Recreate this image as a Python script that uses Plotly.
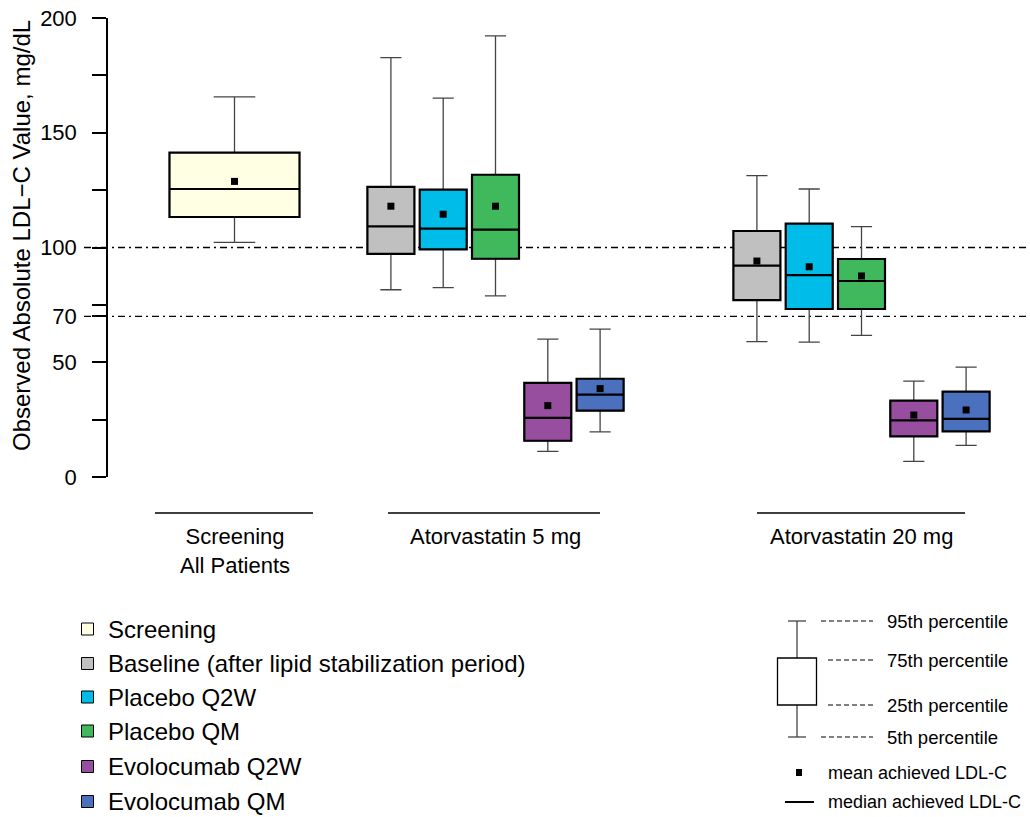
import plotly.graph_objects as go

# ---------------- data ----------------
series = ["Screening", "Baseline (after lipid stabilization period)", "Placebo Q2W",
          "Placebo QM", "Evolocumab Q2W", "Evolocumab QM"]
colors = ["#FFFFE4", "#C0C0C0", "#00BCE8", "#40B85C", "#984E9E", "#4B70BE"]
groups = ["Screening<br>All Patients", "Atorvastatin 5 mg", "Atorvastatin 20 mg"]

box_group = [0, 1, 1, 1, 1, 1, 2, 2, 2, 2, 2]
box_series = [0, 1, 2, 3, 4, 5, 1, 2, 3, 4, 5]
p5 = [102.2, 81.6, 82.5, 78.9, 11.2, 19.7, 59.0, 58.8, 61.7, 6.8, 13.8]
q1 = [113.3, 97.2, 99.2, 95.1, 15.8, 28.9, 77.1, 73.2, 73.2, 17.7, 19.9]
med = [125.5, 109.2, 108.2, 107.8, 25.8, 35.9, 92.1, 88.0, 85.4, 24.7, 25.3]
q3 = [141.3, 126.4, 125.2, 131.7, 41.0, 42.8, 107.2, 110.4, 95.0, 33.3, 37.2]
p95 = [165.6, 182.7, 165.1, 192.2, 60.1, 64.4, 131.3, 125.5, 109.1, 41.8, 47.9]
mean = [128.8, 118.0, 114.5, 118.0, 31.1, 38.5, 94.1, 91.6, 87.6, 27.0, 29.2]

ref_lines = [100, 70]
y_major = [0, 50, 70, 100, 150, 200]
y_minor = [25, 75, 125, 175]
y_title = "Observed Absolute LDL\u2212C Value, mg/dL"

key_labels = ["95th percentile", "75th percentile", "25th percentile", "5th percentile"]
mean_label = "mean achieved LDL-C"
median_label = "median achieved LDL-C"

# ---------------- layout constants (pixels) ----------------
W, H = 1030, 817
L, R, T, B = 108, 3, 18, 340
PW, PH = W - L - R, H - T - B
YMAX = 200
group_center = [234.5, 495.5, 861.5]
slot = 52.3
FONT = "Arial, Liberation Sans, sans-serif"


def px(x):
    return (x - L) / PW


def py(y):
    return (H - B - y) / PH


def xpos(i):
    g = box_group[i]
    if g == 0:
        return group_center[0]
    return group_center[g] + (box_series[i] - 3) * slot


fig = go.Figure()

# whiskers (thin grey) + boxes (black outline)
for i in range(len(p5)):
    s = box_series[i]
    wbox = 130 if box_group[i] == 0 else 47
    cap = 0.32 if box_group[i] == 0 else 0.45
    x = xpos(i)
    fig.add_trace(go.Box(
        x=[x], q1=[q1[i]], median=[med[i]], q3=[q3[i]],
        lowerfence=[p5[i]], upperfence=[p95[i]],
        width=wbox, whiskerwidth=cap, boxpoints=False,
        fillcolor=colors[s], line=dict(color="#444444", width=1.3),
        showlegend=False, hoverinfo="skip"))
    fig.add_trace(go.Box(
        x=[x], q1=[q1[i]], median=[med[i]], q3=[q3[i]],
        lowerfence=[q1[i]], upperfence=[q3[i]],
        width=wbox, whiskerwidth=0, boxpoints=False,
        fillcolor=colors[s], line=dict(color="black", width=2.2),
        showlegend=False, hoverinfo="skip"))

fig.add_trace(go.Scatter(
    x=[xpos(i) for i in range(len(mean))], y=mean, mode="markers",
    marker=dict(symbol="square", size=7, color="black"),
    showlegend=False, hoverinfo="skip"))

shapes = []
annotations = []

# reference dash-dot lines
for v in ref_lines:
    shapes.append(dict(type="line", xref="paper", yref="paper",
                       x0=px(84), x1=px(1027), y0=v / YMAX, y1=v / YMAX,
                       line=dict(color="black", width=1.4, dash="7px,4px,2px,4px"),
                       layer="below"))

# group labels with lines
group_line = [(155, 313), (388, 600), (757, 965)]
for g, name in enumerate(groups):
    a, b = group_line[g]
    shapes.append(dict(type="line", xref="paper", yref="paper",
                       x0=px(a), x1=px(b), y0=py(513), y1=py(513),
                       line=dict(color="black", width=1.5)))
    annotations.append(dict(xref="paper", yref="paper", x=px(group_center[g]), y=py(522),
                            text=name, showarrow=False, xanchor="center", yanchor="top",
                            font=dict(family=FONT, size=22, color="black")))

# y title
annotations.append(dict(xref="paper", yref="paper", x=px(21), y=py(236), text=y_title,
                        textangle=-90, showarrow=False, xanchor="center", yanchor="middle",
                        font=dict(family=FONT, size=24, color="black")))

# left legend
leg_y = [629, 663.5, 697, 731, 766.5, 801.5]
for k, name in enumerate(series):
    yy = leg_y[k]
    shapes.append(dict(type="rect", xref="paper", yref="paper",
                       x0=px(81.5), x1=px(93.5), y0=py(yy - 6), y1=py(yy + 6),
                       fillcolor=colors[k], line=dict(color="black", width=1)))
    annotations.append(dict(xref="paper", yref="paper", x=px(106), y=py(yy), text=name,
                            showarrow=False, xanchor="left", yanchor="middle",
                            font=dict(family=FONT, size=24, color="black")))

# right key
wx = 797
grey = "#444444"
shapes += [
    dict(type="line", xref="paper", yref="paper", x0=px(wx), x1=px(wx), y0=py(621), y1=py(658),
         line=dict(color=grey, width=1.3)),
    dict(type="line", xref="paper", yref="paper", x0=px(wx), x1=px(wx), y0=py(705), y1=py(737),
         line=dict(color=grey, width=1.3)),
    dict(type="line", xref="paper", yref="paper", x0=px(788), x1=px(806), y0=py(621), y1=py(621),
         line=dict(color=grey, width=1.3)),
    dict(type="line", xref="paper", yref="paper", x0=px(788), x1=px(806), y0=py(737), y1=py(737),
         line=dict(color=grey, width=1.3)),
    dict(type="rect", xref="paper", yref="paper", x0=px(777.5), x1=px(816.5), y0=py(705), y1=py(658),
         fillcolor="white", line=dict(color="black", width=1.3)),
    dict(type="rect", xref="paper", yref="paper", x0=px(796), x1=px(802), y0=py(776), y1=py(769),
         fillcolor="black", line=dict(width=0)),
    dict(type="line", xref="paper", yref="paper", x0=px(785), x1=px(814), y0=py(802), y1=py(802),
         line=dict(color="black", width=2)),
]
key_y = [621, 660, 705, 737]
key_x0 = [821, 828, 828, 821]
for k, lab in enumerate(key_labels):
    shapes.append(dict(type="line", xref="paper", yref="paper", x0=px(key_x0[k]), x1=px(873),
                       y0=py(key_y[k]), y1=py(key_y[k]),
                       line=dict(color="black", width=1, dash="5px,3px")))
    annotations.append(dict(xref="paper", yref="paper", x=px(885), y=py(key_y[k]), text=lab,
                            showarrow=False, xanchor="left", yanchor="middle",
                            font=dict(family=FONT, size=18.5, color="black")))
annotations.append(dict(xref="paper", yref="paper", x=px(826), y=py(772.5), text=mean_label,
                        showarrow=False, xanchor="left", yanchor="middle",
                        font=dict(family=FONT, size=18, color="black")))
annotations.append(dict(xref="paper", yref="paper", x=px(826), y=py(802), text=median_label,
                        showarrow=False, xanchor="left", yanchor="middle",
                        font=dict(family=FONT, size=18, color="black")))

ticks = sorted(y_major + y_minor)
ticktext = [str(v) if v in y_major else "" for v in ticks]

fig.update_layout(
    width=W, height=H, margin=dict(l=L, r=R, t=T, b=B),
    paper_bgcolor="white", plot_bgcolor="white",
    boxmode="overlay", showlegend=False,
    shapes=shapes, annotations=annotations,
    xaxis=dict(range=[L, W - R], visible=False, fixedrange=True),
    yaxis=dict(range=[0, YMAX], tickvals=ticks, ticktext=ticktext,
               ticks="outside", ticklen=14, tickwidth=1.5, tickcolor="black",
               showline=True, linecolor="black", linewidth=1.5,
               showgrid=False, zeroline=False, ticklabelstandoff=11,
               tickfont=dict(family=FONT, size=22, color="black")),
)

fig.write_html("out.html", config={"displayModeBar": False},
               post_script="document.body.style.margin='0';document.body.style.overflow='hidden';")
